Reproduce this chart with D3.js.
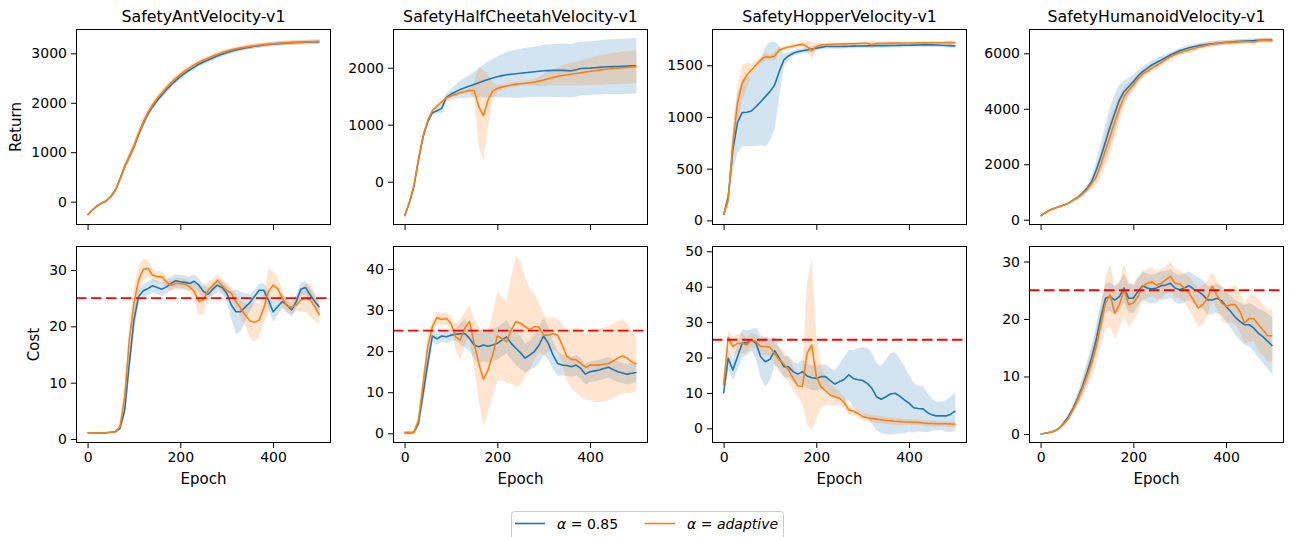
<!DOCTYPE html>
<html><head><meta charset="utf-8">
<script src="https://cdn.jsdelivr.net/npm/d3@7"></script>
<style>
body{margin:0;background:#fff}
svg{display:block}
text{font-family:'DejaVu Sans',sans-serif;fill:#000}
</style>
</head><body>
<svg id="chart" width="1294" height="537"></svg>
<script>
// ---------------- DATA ----------------
const epochs = [0,10,20,30,40,50,60,70,80,90,100,110,120,130,140,150,160,170,180,190,200,210,220,230,240,250,260,270,280,290,300,310,320,330,340,350,360,370,380,390,400,410,420,430,440,450,460,470,480,490,500];
const titles = ["SafetyAntVelocity-v1","SafetyHalfCheetahVelocity-v1","SafetyHopperVelocity-v1","SafetyHumanoidVelocity-v1"];
const seriesNames = ["0.85","adaptive"];
const costLimit = 25;
const xTicks = [0,200,400];
const xLimits = [-25,525];
const returnTicks = [[0,1000,2000,3000],[0,1000,2000],[0,500,1000,1500],[0,2000,4000,6000]];
const costTicks = [[0,10,20,30],[0,10,20,30,40],[0,10,20,30,40,50],[0,10,20,30]];
const returnLimits = [[-472,3492],[-760,2680],[-45,1851],[-191,6877]];
const costLimits = [[-0.71,34.26],[-2.36,45.6],[-4.15,51.5],[-1.57,32.7]];

// Ant return
const antRetFixed = [-270,-170,-88,-30,13,100,236,460,708,910,1112,1360,1584,1770,1921,2045,2157,2265,2360,2448,2528,2598,2663,2722,2778,2823,2865,2907,2946,2982,3013,3042,3067,3089,3108,3126,3142,3156,3169,3180,3189,3196,3202,3209,3216,3219,3222,3226,3229,3232,3236];
const antRetFixedSd = [10,15,20,20,25,30,40,50,60,70,70,70,70,65,60,60,60,60,55,55,55,55,50,50,50,50,45,45,45,45,45,45,45,45,45,45,45,45,45,45,45,45,45,45,45,45,45,45,45,45,45];
const antRetAdapt = [-270,-170,-88,-30,13,100,236,460,708,915,1125,1380,1610,1800,1955,2085,2200,2310,2405,2495,2575,2645,2710,2768,2820,2865,2905,2945,2982,3015,3045,3070,3092,3110,3126,3140,3153,3165,3176,3186,3195,3202,3208,3214,3219,3223,3227,3230,3233,3236,3238];
const antRetAdaptSd = [10,15,20,20,25,30,40,60,80,100,110,110,100,90,80,75,70,65,60,60,55,55,50,50,50,50,45,45,45,45,45,45,45,45,45,45,45,45,45,45,45,45,45,45,45,45,45,45,45,45,45];
// HalfCheetah return
const hcRetFixed = [-602,-380,-88,380,789,1053,1210,1246,1287,1480,1538,1580,1620,1650,1678,1708,1737,1766,1795,1820,1842,1862,1877,1887,1895,1904,1912,1921,1930,1939,1947,1950,1953,1953,1953,1950,1947,1965,1988,1991,1994,2000,2006,2012,2018,2020,2023,2026,2029,2032,2035];
const hcRetFixedSd = [20,20,25,30,30,30,30,40,90,80,90,120,150,180,200,220,260,290,320,340,360,380,400,410,420,430,435,440,445,450,455,460,465,470,470,470,470,475,470,470,470,472,475,478,480,482,485,485,485,487,488];
const hcRetAdapt = [-602,-370,-70,400,810,1080,1250,1327,1400,1470,1503,1535,1561,1580,1605,1600,1316,1160,1433,1590,1637,1660,1678,1698,1713,1720,1725,1736,1748,1765,1784,1808,1830,1848,1865,1878,1889,1900,1912,1924,1936,1948,1959,1968,1977,1986,1994,2000,2006,2015,2023];
const hcRetAdaptSd = [20,20,25,30,30,30,30,30,30,30,30,30,30,30,40,150,700,800,450,150,60,40,40,40,40,40,40,50,60,80,100,120,140,160,180,190,200,210,220,230,240,250,260,265,270,275,280,283,285,288,290];
// Hopper return
const hopRetFixed = [52,229,681,945,1042,1045,1058,1100,1148,1197,1245,1310,1439,1552,1590,1616,1632,1640,1648,1657,1665,1673,1681,1681,1681,1681,1683,1684,1685,1686,1687,1688,1689,1690,1690,1690,1691,1692,1693,1694,1694,1695,1696,1697,1697,1697,1696,1694,1692,1690,1687];
const hopRetFixedSd = [10,60,200,290,320,330,340,380,420,480,480,420,250,60,40,25,25,25,25,25,25,20,20,20,20,20,20,20,20,20,20,20,20,20,20,20,20,20,20,20,20,20,20,20,20,20,20,20,20,20,20];
const hopRetAdapt = [52,197,745,1132,1326,1406,1455,1503,1552,1584,1577,1590,1648,1665,1677,1687,1695,1703,1681,1642,1681,1697,1700,1702,1704,1706,1707,1708,1709,1711,1713,1713,1700,1713,1713,1713,1714,1714,1715,1715,1716,1716,1717,1717,1717,1718,1718,1718,1719,1719,1719];
const hopRetAdaptSd = [10,60,150,180,170,120,60,40,30,30,30,40,30,20,20,20,20,20,60,80,30,15,15,15,15,15,15,15,15,15,15,15,40,15,15,15,15,15,15,15,15,15,15,15,15,15,15,15,15,15,15];
// Humanoid return
const humRetFixed = [132,252,349,409,469,529,589,709,806,950,1130,1371,1792,2272,2813,3354,3836,4316,4617,4797,4978,5182,5339,5460,5579,5670,5759,5850,5940,6020,6096,6150,6204,6240,6276,6300,6324,6342,6360,6380,6397,6410,6421,6433,6445,6451,6457,6470,6481,6481,6481];
const humRetFixedSd = [20,20,20,20,20,20,20,40,60,80,120,200,350,500,650,750,700,550,400,320,260,200,180,170,160,150,140,130,100,100,100,100,100,100,100,100,100,100,100,100,80,80,80,80,80,80,80,80,80,80,80];
const humRetAdapt = [132,252,349,409,469,529,589,700,790,925,1080,1300,1551,2000,2513,3020,3535,4000,4437,4680,4858,5080,5254,5360,5459,5560,5663,5770,5879,5955,6024,6075,6120,6170,6216,6260,6300,6330,6360,6373,6385,6395,6405,6413,6421,6425,6410,6450,6481,6470,6457];
const humRetAdaptSd = [20,20,20,20,20,20,20,40,60,80,100,180,300,450,600,650,600,500,350,250,200,170,150,130,120,120,120,120,120,120,120,100,100,100,90,90,90,80,80,80,80,80,80,80,80,80,80,80,80,80,80];

// Ant cost
const antCostFixed = [1.1,1.1,1.07,1.05,1.1,1.2,1.3,1.9,5.1,13.4,21.1,25.3,26.3,26.7,27.2,26.9,26.6,27.0,27.6,28.1,27.9,27.8,27.6,28.0,27.3,26.2,25.7,26.6,27.3,26.9,25.9,23.8,22.6,22.6,23.4,24.2,25.3,26.4,26.4,24.7,22.6,23.5,24.4,23.8,22.9,24.4,26.6,26.9,25.6,24.4,23.4];
const antCostFixedSd = [0.1,0.1,0.1,0.1,0.1,0.1,0.15,0.3,1,2,2,1.2,1.2,1.2,1.2,1.2,1.2,1.2,1.2,1.2,1.2,1.2,1.2,1.2,1.2,1.2,1.2,1.2,1.2,1.2,1.5,2.5,4,3.5,2.5,1.5,1.2,1.2,1.2,1.5,1.8,1.5,1.2,1.2,1.2,1.2,1.2,1.2,1.2,1.2,1.2];
const antCostAdapt = [1.1,1.1,1.07,1.05,1.1,1.2,1.3,2.2,7.5,17.6,24.1,28.2,30.1,30.3,29.1,28.8,28.8,27.9,27.3,27.6,27.6,27.5,27.0,26.2,24.4,24.7,26.4,27.2,28.1,27.3,26.4,25.9,24.4,23.2,22.0,21.0,20.7,21.1,23.2,26.2,27.3,26.7,25.0,23.6,23.4,23.8,24.7,25.0,24.7,23.5,22.0];
const antCostAdaptSd = [0.1,0.1,0.1,0.1,0.1,0.1,0.15,0.5,1.5,3,3,2.5,2,1.5,1,1,1,1,1,1,1,1,1,1.5,2.5,2.5,1.5,1.2,1.2,1.2,1.2,1.2,1.2,1.5,2,3,3.5,3,2.5,4,2.5,2,1.5,1.2,1.2,1.2,2,2.5,3,2.5,1.5];
// HalfCheetah cost
const hcCostFixed = [0.16,0.16,0.2,2.4,9.7,17.0,23.7,23.0,23.7,23.5,23.9,24.1,24.2,24.3,23.1,21.5,21.1,21.5,21.2,21.5,21.9,22.7,23.5,21.9,20.7,19.6,18.3,19.1,19.9,21.5,23.7,21.9,19.1,17.0,16.6,16.5,16.2,16.6,15.8,14.4,15.0,15.2,15.4,15.8,16.1,15.5,15.0,14.7,14.4,14.6,14.8];
const hcCostFixedSd = [0.2,0.2,0.2,1,2,2.5,1.5,1.5,1.5,1.5,1.5,1.5,2.5,3.5,3,3.5,4,4,4,4,4,4,4,4,4,4,3.5,3.5,4,4.5,4.5,4,3.5,3,2.5,2.5,2.5,2.5,2.5,2.5,2.5,2.5,2.5,2.5,2.5,2.5,2.5,2.5,2.5,2.5,2.5];
const hcCostAdapt = [0.1,0.1,0.2,3.2,12.2,21.1,26.0,28.2,27.7,28.0,26.8,23.5,22.7,25.6,27.2,21.9,17.0,13.2,15.4,19.1,23.7,23.1,22.3,25.2,27.2,26.8,26.0,25.2,26.0,25.8,23.9,23.9,24.3,23.9,21.5,18.7,18.0,17.9,17.0,16.1,16.6,16.6,16.6,16.8,17.0,17.6,18.3,18.8,18.3,17.4,16.8];
const hcCostAdaptSd = [0.5,0.5,0.5,1,2,3,1.5,1.5,1.5,1.5,1.5,3,5,4,4,6,9,11.5,10,10,11,10,10,13,16,15,12,10,8,6,5,4,4,4,5,6,7,8,8,8,8.5,9,9,9,9,9,9,9,8.5,7.5,6.5];
// Hopper cost
const hopCostFixed = [9.9,19.8,16.5,20.2,24.0,24.2,25.0,24.0,20.2,18.8,19.5,21.9,19.8,17.4,17.4,16.0,15.3,16.0,14.8,14.3,14.1,14.6,14.6,13.5,12.5,13.2,13.8,15.1,14.1,13.7,13.5,12.7,11.3,8.9,8.2,8.9,9.7,9.9,9.1,8.0,7.1,5.8,5.6,5.5,4.4,3.8,3.5,3.5,3.5,4.0,4.9];
const hopCostFixedSd = [1,3,3,3.5,4,3.5,3,4.5,6,7,6,4,3,3,3,3,3,3.5,3.5,3.5,3.5,3.5,3.5,3.5,4,5,6.5,7,8,9,9.5,10,10,9.5,9.5,10.5,11.5,11.5,10.5,9.5,8,7,6.5,6.5,5.5,4.5,4,4,4.5,5,5.5];
const hopCostAdapt = [12.2,25.7,23.1,24.0,24.0,23.5,25.0,24.5,23.1,23.1,22.9,21.2,19.3,18.2,16.5,14.1,12.0,11.8,21.2,23.5,14.6,11.8,10.6,9.4,8.9,8.5,7.3,5.2,4.9,4.2,3.3,3.0,2.8,2.6,2.4,2.2,2.1,2.0,1.9,1.8,1.8,1.7,1.7,1.5,1.4,1.35,1.3,1.3,1.3,1.2,1.1];
const hopCostAdaptSd = [1,2,3,2.5,3,2,2,2,2,2.5,2.5,3,3.5,3.5,3.5,3.5,3,5,20,24,12,6,4,3,2.5,2,1.5,1.5,1.2,1,1,1,1,1,1,1,1,1,1,0.8,0.8,0.8,0.8,0.8,0.8,0.8,0.8,0.8,0.8,0.8,0.8];
// Humanoid cost
const humCostFixed = [0,0.12,0.3,0.5,1.0,1.9,3.0,4.5,6.2,8.2,10.6,13.2,16.4,20.3,23.6,23.9,23.3,23.9,25.4,23.6,23.6,24.8,25.8,25.4,25.2,25.4,25.8,25.9,26.2,25.4,25.1,25.4,25.8,25.2,24.8,24.2,23.3,23.3,23.6,23.2,22.2,21.3,20.3,19.6,19.0,19.0,18.4,17.5,16.9,16.1,15.3];
const humCostFixedSd = [0.1,0.1,0.1,0.1,0.1,0.3,0.5,0.7,1,1.5,2,2.2,2.5,2.5,2.5,2.5,2.5,2.5,2.5,2.5,2.5,2.5,2.5,2.5,2.5,2.5,2.5,2.5,2.5,2.5,2.5,2.5,2.5,2.5,2.5,2.5,2.5,2.5,2.5,2.5,2.5,2.8,3,3.3,3.5,3.8,4,4.3,4.6,4.8,5];
const humCostAdapt = [0,0.12,0.3,0.5,1.0,1.7,2.7,4.2,5.9,7.8,10.0,12.3,15.2,19.0,22.8,24.2,21.0,22.5,25.1,22.5,22.8,23.9,25.7,26.2,26.5,25.9,26.2,26.8,27.4,26.2,26.1,25.4,24.5,23.3,21.9,22.5,23.6,25.7,24.2,22.8,22.2,22.5,22.5,21.3,19.3,20.1,20.1,19.0,18.1,17.1,17.1];
const humCostAdaptSd = [0.1,0.1,0.1,0.1,0.1,0.3,0.5,0.7,1,1.5,2,2.5,3,3.5,4.5,5.5,4.5,4,4.5,4,3,3,2.5,2.5,2.5,2.5,2.5,2.5,2.5,2.5,2.5,2.5,3,3,3.5,3.5,3,2.5,2.5,3,3,3,3.5,3.5,3.5,4,4,4.5,4.5,4.5,4.5];

// ---------------- PANEL TABLE ----------------
const panels = [
  {fixed:antRetFixed, fixedSd:antRetFixedSd, adapt:antRetAdapt, adaptSd:antRetAdaptSd},
  {fixed:hcRetFixed, fixedSd:hcRetFixedSd, adapt:hcRetAdapt, adaptSd:hcRetAdaptSd},
  {fixed:hopRetFixed, fixedSd:hopRetFixedSd, adapt:hopRetAdapt, adaptSd:hopRetAdaptSd},
  {fixed:humRetFixed, fixedSd:humRetFixedSd, adapt:humRetAdapt, adaptSd:humRetAdaptSd},
  {fixed:antCostFixed, fixedSd:antCostFixedSd, adapt:antCostAdapt, adaptSd:antCostAdaptSd},
  {fixed:hcCostFixed, fixedSd:hcCostFixedSd, adapt:hcCostAdapt, adaptSd:hcCostAdaptSd},
  {fixed:hopCostFixed, fixedSd:hopCostFixedSd, adapt:hopCostAdapt, adaptSd:hopCostAdaptSd},
  {fixed:humCostFixed, fixedSd:humCostFixedSd, adapt:humCostAdapt, adaptSd:humCostAdaptSd}
];
panels.forEach((p,i)=>{
  const row = Math.floor(i/4), col = i%4;
  p.row=row; p.col=col;
  p.yDomain = row===0 ? returnLimits[col] : costLimits[col];
  p.yTicks = row===0 ? returnTicks[col] : costTicks[col];
});

// ---------------- DRAW ----------------
const svg = d3.select('#chart');
const colLeft = [76, 393, 712, 1029], W = 255;
const rowTop = [29, 246], rowH = [196, 197];
const C0 = '#1f77b4', C1 = '#ff7f0e';
const tickFont = '14px', labelFont = '15px', titleFont = '15.8px';

panels.forEach((p,i)=>{
  const x0 = colLeft[p.col], y0 = rowTop[p.row], h = rowH[p.row];
  const x = d3.scaleLinear().domain(xLimits).range([x0, x0+W]);
  const y = d3.scaleLinear().domain(p.yDomain).range([y0+h, y0]);
  const g = svg.append('g');
  const clipId = 'clip'+i;
  g.append('clipPath').attr('id',clipId).append('rect')
    .attr('x',x0).attr('y',y0).attr('width',W).attr('height',h);
  const plot = g.append('g').attr('clip-path',`url(#${clipId})`);
  const series = [
    {mean:p.fixed, sd:p.fixedSd, color:C0},
    {mean:p.adapt, sd:p.adaptSd, color:C1}
  ];
  series.forEach(s=>{
    const area = d3.area()
      .x((d,j)=>x(epochs[j]))
      .y0((d,j)=>y(s.mean[j]-s.sd[j]))
      .y1((d,j)=>y(s.mean[j]+s.sd[j]));
    plot.append('path').datum(s.mean).attr('d',area)
      .attr('fill',s.color).attr('fill-opacity',0.2).attr('stroke','none');
  });
  series.forEach(s=>{
    const line = d3.line().x((d,j)=>x(epochs[j])).y(d=>y(d));
    plot.append('path').datum(s.mean).attr('d',line)
      .attr('fill','none').attr('stroke',s.color).attr('stroke-width',1.6)
      .attr('stroke-linejoin','round').attr('stroke-linecap','butt');
  });
  if (p.row===1){
    plot.append('line')
      .attr('x1',x0).attr('x2',x0+W)
      .attr('y1',y(costLimit)).attr('y2',y(costLimit))
      .attr('stroke','#ff0000').attr('stroke-width',1.9)
      .attr('stroke-dasharray','10.5,4.5');
  }
  // axes
  const ya = g.append('g').attr('transform',`translate(${x0},0)`)
    .call(d3.axisLeft(y).tickValues(p.yTicks).tickSize(5).tickPadding(4).tickFormat(d3.format('d')));
  const xa = g.append('g').attr('transform',`translate(0,${y0+h})`)
    .call(d3.axisBottom(x).tickValues(xTicks).tickSize(5).tickPadding(4)
      .tickFormat(p.row===1 ? d3.format('d') : ()=>''));
  [ya,xa].forEach(a=>{
    a.select('.domain').remove();
    a.selectAll('.tick line').attr('stroke','#000').attr('stroke-width',1);
    a.selectAll('.tick text').attr('fill','#000')
      .style('font-size',tickFont).style('font-family',"'DejaVu Sans',sans-serif");
  });
  // frame
  g.append('rect').attr('x',x0+0.5).attr('y',y0+0.5).attr('width',W-1).attr('height',h-1)
    .attr('fill','none').attr('stroke','#000').attr('stroke-width',1);
  // title
  if (p.row===0){
    g.append('text').attr('x',x0+W/2).attr('y',21.5).attr('text-anchor','middle')
      .style('font-size',titleFont).text(titles[p.col]);
  } else {
    g.append('text').attr('x',x0+W/2).attr('y',484).attr('text-anchor','middle')
      .style('font-size',labelFont).text('Epoch');
  }
});
// y labels
svg.append('text').attr('transform',`translate(21,${rowTop[0]+rowH[0]/2}) rotate(-90)`)
  .attr('text-anchor','middle').style('font-size','15px').text('Return');
svg.append('text').attr('transform',`translate(39,${rowTop[1]+rowH[1]/2}) rotate(-90)`)
  .attr('text-anchor','middle').style('font-size','15px').text('Cost');

// legend
const lg = svg.append('g');
lg.append('rect').attr('x',511.5).attr('y',511.5).attr('width',272).attr('height',34).attr('rx',3)
  .attr('fill','#fff').attr('fill-opacity',0.8).attr('stroke','#cccccc').attr('stroke-width',1);
const legendX = [515, 645];
[C0,C1].forEach((c,k)=>{
  lg.append('line').attr('x1',legendX[k]).attr('x2',legendX[k]+30).attr('y1',523.5).attr('y2',523.5)
    .attr('stroke',c).attr('stroke-width',1.6);
  const t = lg.append('text').attr('x',legendX[k]+42).attr('y',528.5).style('font-size','14px');
  t.append('tspan').style('font-style','italic').text('α');
  t.append('tspan').text(' = ');
  t.append('tspan').style('font-style', k===1 ? 'italic' : 'normal').text(seriesNames[k]);
});
</script>
</body></html>
